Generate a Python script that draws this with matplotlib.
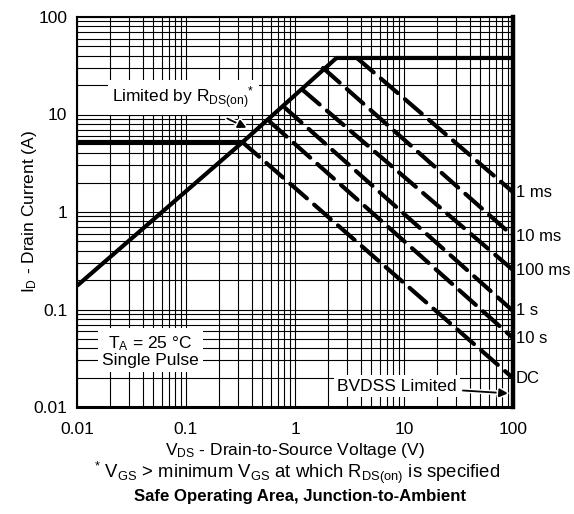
import matplotlib
matplotlib.use("Agg")
import matplotlib.pyplot as plt
import matplotlib.patheffects as pe
from matplotlib.ticker import LogLocator, NullFormatter

plt.rcParams["font.family"] = ["Liberation Sans", "DejaVu Sans"]
plt.rcParams["mathtext.fontset"] = "custom"
plt.rcParams["mathtext.rm"] = "Liberation Sans"
plt.rcParams["mathtext.it"] = "Liberation Sans:italic"
plt.rcParams["mathtext.bf"] = "Liberation Sans:bold"

# R_DS(on) limit line (V, A)
rds_v = [0.01, 0.33, 2.4]
rds_i = [0.175, 5.2, 38]

# package current limit (horizontal segments)
low_limit_v = [0.01, 0.33]
low_limit_i = [5.2, 5.2]
high_limit_v = [2.4, 100]
high_limit_i = [38, 38]

# pulse lines: start point on the limit line, end at V = 100
pulse_labels = ["1 ms", "10 ms", "100 ms", "1 s", "10 s", "DC"]
pulse_v0 = [3.7, 1.81, 1.18, 0.81, 0.59, 0.33]
pulse_i0 = [38, 30, 17.8, 11.7, 8.4, 5.2]
pulse_i1 = [1.6, 0.567, 0.254, 0.0966, 0.051, 0.0198]

xticks = [0.01, 0.1, 1, 10, 100]
xtick_labels = ["0.01", "0.1", "1", "10", "100"]
yticks = [0.01, 0.1, 1, 10, 100]
ytick_labels = ["0.01", "0.1", "1", "10", "100"]

fs = 12.5

fig = plt.figure(figsize=(5.74, 5.14), dpi=100)
ax = fig.add_axes([77 / 574, 1 - 407 / 514, 436 / 574, 390 / 514])
ax.set_xscale("log")
ax.set_yscale("log")
ax.set_xlim(0.01, 100)
ax.set_ylim(0.01, 100)

ax.xaxis.set_minor_locator(LogLocator(base=10, subs=range(2, 10)))
ax.yaxis.set_minor_locator(LogLocator(base=10, subs=range(2, 10)))
ax.xaxis.set_minor_formatter(NullFormatter())
ax.yaxis.set_minor_formatter(NullFormatter())
ax.grid(True, which="both", color="black", linewidth=0.8)
ax.set_axisbelow(True)

ax.set_xticks(xticks)
ax.set_xticklabels(xtick_labels, fontsize=fs)
ax.set_yticks(yticks)
ax.set_yticklabels(ytick_labels, fontsize=fs)
ax.tick_params(which="both", length=0)
ax.tick_params(axis="x", pad=11)
ax.tick_params(axis="y", pad=7)

for side, lw in [("left", 1.5), ("top", 1.5), ("bottom", 2.2), ("right", 3.2)]:
    ax.spines[side].set_linewidth(lw)

# limit lines
ax.plot(rds_v, rds_i, color="black", lw=3, solid_capstyle="butt", zorder=4)
ax.plot(low_limit_v, low_limit_i, color="black", lw=3, solid_capstyle="butt", zorder=4)
ax.plot(high_limit_v, high_limit_i, color="black", lw=3, solid_capstyle="butt", zorder=4)

for lab, v0, i0, i1 in zip(pulse_labels, pulse_v0, pulse_i0, pulse_i1):
    ax.plot([v0, 100], [i0, i1], color="black", lw=3,
            linestyle=(0, (5.3, 2.3)), dash_capstyle="round", zorder=4)
    ax.annotate(lab, xy=(100, i1), xytext=(2, 0), textcoords="offset points",
                ha="left", va="center", fontsize=12, annotation_clip=False)

halo = [pe.withStroke(linewidth=3.5, foreground="white")]

ax.annotate(r"Limited by R$_{\mathregular{DS(on)}}$$^{\mathregular{*}}$",
            xy=(0.36, 7.3), xytext=(0.094, 15.0),
            ha="center", va="center", fontsize=fs, zorder=6,
            bbox=dict(boxstyle="square,pad=0.25", fc="white", ec="none"),
            arrowprops=dict(arrowstyle="-|>", color="black", lw=1.3,
                            shrinkA=6, shrinkB=0, path_effects=halo))

ax.text(0.047, 0.0375, "T$_\\mathregular{A}$ = 25 °C\nSingle Pulse",
        ha="center", va="center", fontsize=fs, zorder=6, linespacing=1.0,
        bbox=dict(boxstyle="square,pad=0.25", fc="white", ec="none"))

ax.annotate("BVDSS Limited", xy=(90, 0.0138), xytext=(8.6, 0.0163),
            ha="center", va="center", fontsize=fs, zorder=6,
            bbox=dict(boxstyle="square,pad=0.2", fc="white", ec="none"),
            arrowprops=dict(arrowstyle="-|>", color="black", lw=1.3,
                            shrinkA=2, shrinkB=0, path_effects=halo))

fig.text(295 / 574, 1 - 450 / 514,
         r"V$_{\mathregular{DS}}$ - Drain-to-Source Voltage (V)",
         ha="center", va="center", fontsize=fs)
fig.text(297 / 574, 1 - 473 / 514,
         r"$^{\mathregular{*}}$ V$_{\mathregular{GS}}$ > minimum V$_{\mathregular{GS}}$ at which R$_{\mathregular{DS(on)}}$ is specified",
         ha="center", va="center", fontsize=13.3)
fig.text(300 / 574, 1 - 497 / 514, "Safe Operating Area, Junction-to-Ambient",
         ha="center", va="center", fontsize=12.1, fontweight="bold")
fig.text(30 / 574, 1 - 212 / 514, r"I$_{\mathregular{D}}$ - Drain Current (A)",
         ha="center", va="center", rotation=90, fontsize=fs)

fig.savefig("out.png", dpi=100)
